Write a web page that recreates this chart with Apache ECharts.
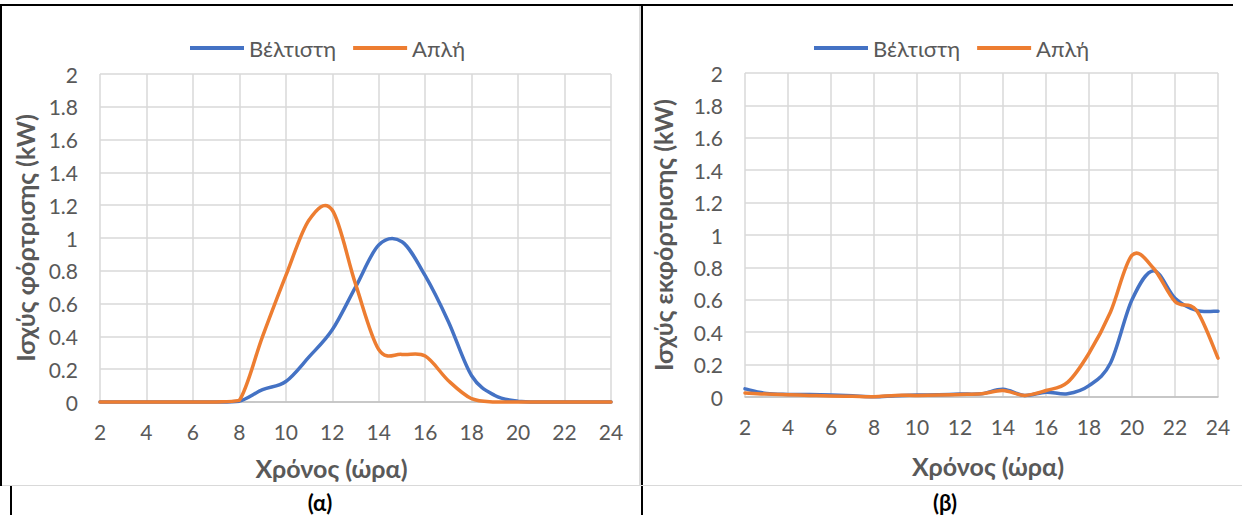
<!DOCTYPE html>
<html>
<head>
<meta charset="utf-8">
<script src="https://cdn.jsdelivr.net/npm/echarts@6/dist/echarts.min.js"></script>
<style>
  html, body { margin: 0; padding: 0; background: #fff; }
  #wrap { position: relative; width: 1242px; height: 515px; overflow: hidden; }
  #chart { position: absolute; left: 0; top: 0; width: 1242px; height: 515px; }
  .ln { position: absolute; pointer-events: none; }
  .cap { position: absolute; font-family: Lato, 'Open Sans', sans-serif; font-weight: bold; font-size: 22px; line-height: 24px; color: #000; transform: translateX(-50%); }
</style>
</head>
<body>
<div id="wrap">
  <div id="chart"></div>
  <div class="ln" style="left:0;top:4px;width:1233px;height:2px;background:#000"></div>
  <div class="ln" style="left:0;top:4px;width:2px;height:482px;background:#000"></div>
  <div class="ln" style="left:10px;top:486px;width:2px;height:29px;background:#000"></div>
  <div class="ln" style="left:639px;top:6px;width:1.5px;height:480px;background:#d9d9d9"></div>
  <div class="ln" style="left:641px;top:4px;width:2px;height:511px;background:#000"></div>
  <div class="ln" style="left:2px;top:484.5px;width:1240px;height:1.5px;background:#d9d9d9"></div>
  <div class="cap" style="left:320px;top:491px">(α)</div>
  <div class="cap" style="left:945px;top:491px">(β)</div>
</div>
<script>
// ---- data ----
const hours = [2,3,4,5,6,7,8,9,10,11,12,13,14,15,16,17,18,19,20,21,22,23,24];
const seriesNames = ['Βέλτιστη', 'Απλή'];
// (α) charging power (kW)
const chargeBest   = [0,0,0,0,0,0,0.005,0.075,0.125,0.275,0.44,0.70,0.957,0.977,0.77,0.49,0.16,0.04,0.005,0,0,0,0];
const chargeSimple = [0,0,0,0,0,0,0.01,0.40,0.77,1.11,1.17,0.72,0.32,0.29,0.28,0.13,0.02,0,0,0,0,0,0];
// (β) discharging power (kW)
const dischargeBest   = [0.05,0.022,0.016,0.015,0.012,0.007,0.002,0.008,0.012,0.014,0.018,0.02,0.048,0.01,0.03,0.02,0.07,0.21,0.6,0.78,0.61,0.535,0.53];
const dischargeSimple = [0.025,0.018,0.014,0.01,0.006,0.004,0.002,0.01,0.01,0.012,0.016,0.02,0.04,0.01,0.04,0.09,0.27,0.525,0.875,0.795,0.59,0.535,0.24];
const xTitle = 'Χρόνος (ώρα)';
const yTitleA = 'Ισχύς φόρτρισης (kW)';
const yTitleB = 'Ισχύς εκφόρτρισης (kW)';

const FONT = "Lato, 'Open Sans', sans-serif";
const TXT = '#595959';
const GRIDC = '#d9d9d9';
const BLUE = '#4472C4', ORANGE = '#ED7D31';

const pairs = (vals) => hours.map((h, i) => [h, vals[i]]);

function xAxis(gridIndex, nameGap, namePad) {
  return {
    type: 'value', gridIndex, min: 2, max: 24, interval: 2,
    name: xTitle, nameLocation: 'middle', nameGap,
    nameTextStyle: { fontFamily: FONT, fontSize: 25, fontWeight: 'bold', color: TXT, padding: namePad },
    axisLine: { show: true, lineStyle: { color: '#bfbfbf', width: 1.5 } },
    axisTick: { show: false },
    axisLabel: { fontFamily: FONT, fontSize: 21, color: TXT, margin: 19 },
    splitLine: { show: true, lineStyle: { color: GRIDC, width: 1.5 } }
  };
}
function yAxis(gridIndex, name, nameGap) {
  return {
    type: 'value', gridIndex, min: 0, max: 2, interval: 0.2,
    name, nameLocation: 'middle', nameGap, nameRotate: 90,
    nameTextStyle: { fontFamily: FONT, fontSize: 25, fontWeight: 'bold', color: TXT },
    axisLine: { show: false }, axisTick: { show: false },
    axisLabel: { fontFamily: FONT, fontSize: 21, color: TXT, margin: 22 },
    splitLine: { show: true, lineStyle: { color: GRIDC, width: 1.5 } }
  };
}
// Smooth curve through the data points (Catmull-Rom style, like a spreadsheet's smoothed line),
// positioned with the axis scales via api.coord.
function smoothLine(name, vals, color, idx) {
  const data = pairs(vals);
  return {
    name, type: 'custom', coordinateSystem: 'cartesian2d',
    xAxisIndex: idx, yAxisIndex: idx, data,
    itemStyle: { color }, z: 3,
    renderItem: function (params, api) {
      if (params.dataIndex !== 0) return;
      const p = data.map(d => api.coord(d));
      const zeroY = api.coord([hours[0], 0])[1];
      const n = p.length;
      let path = 'M' + p[0][0] + ',' + p[0][1];
      for (let i = 0; i < n - 1; i++) {
        const p0 = p[Math.max(i - 1, 0)], p1 = p[i], p2 = p[i + 1], p3 = p[Math.min(i + 2, n - 1)];
        const c1x = p1[0] + (p2[0] - p0[0]) / 6, c1y = Math.min(zeroY, p1[1] + (p2[1] - p0[1]) / 6);
        const c2x = p2[0] - (p3[0] - p1[0]) / 6, c2y = Math.min(zeroY, p2[1] - (p3[1] - p1[1]) / 6);
        path += 'C' + c1x + ',' + c1y + ' ' + c2x + ',' + c2y + ' ' + p2[0] + ',' + p2[1];
      }
      return {
        type: 'path',
        shape: { pathData: path },
        style: { fill: 'none', stroke: color, lineWidth: 3.5, lineCap: 'round', lineJoin: 'round' }
      };
    }
  };
}
function legend(left, top) {
  return {
    data: seriesNames, left, top, icon: 'rect', itemWidth: 54, itemHeight: 4,
    itemGap: 17, selectedMode: false,
    textStyle: { fontFamily: FONT, fontSize: 22, color: TXT }
  };
}

const chart = echarts.init(document.getElementById('chart'), null, { renderer: 'svg' });
chart.setOption({
  animation: false,
  backgroundColor: 'transparent',
  legend: [legend(185, 32), legend(809, 32)],
  grid: [
    { left: 100, top: 74, width: 511, height: 328 },
    { left: 745, top: 73, width: 473, height: 324 }
  ],
  xAxis: [xAxis(0, 53, [0, 48, 0, 0]), xAxis(1, 56, [0, 0, 0, 13])],
  yAxis: [yAxis(0, yTitleA, 63), yAxis(1, yTitleB, 70)],
  series: [
    smoothLine(seriesNames[0], chargeBest, BLUE, 0),
    smoothLine(seriesNames[1], chargeSimple, ORANGE, 0),
    smoothLine(seriesNames[0], dischargeBest, BLUE, 1),
    smoothLine(seriesNames[1], dischargeSimple, ORANGE, 1)
  ]
});
</script>
</body>
</html>
